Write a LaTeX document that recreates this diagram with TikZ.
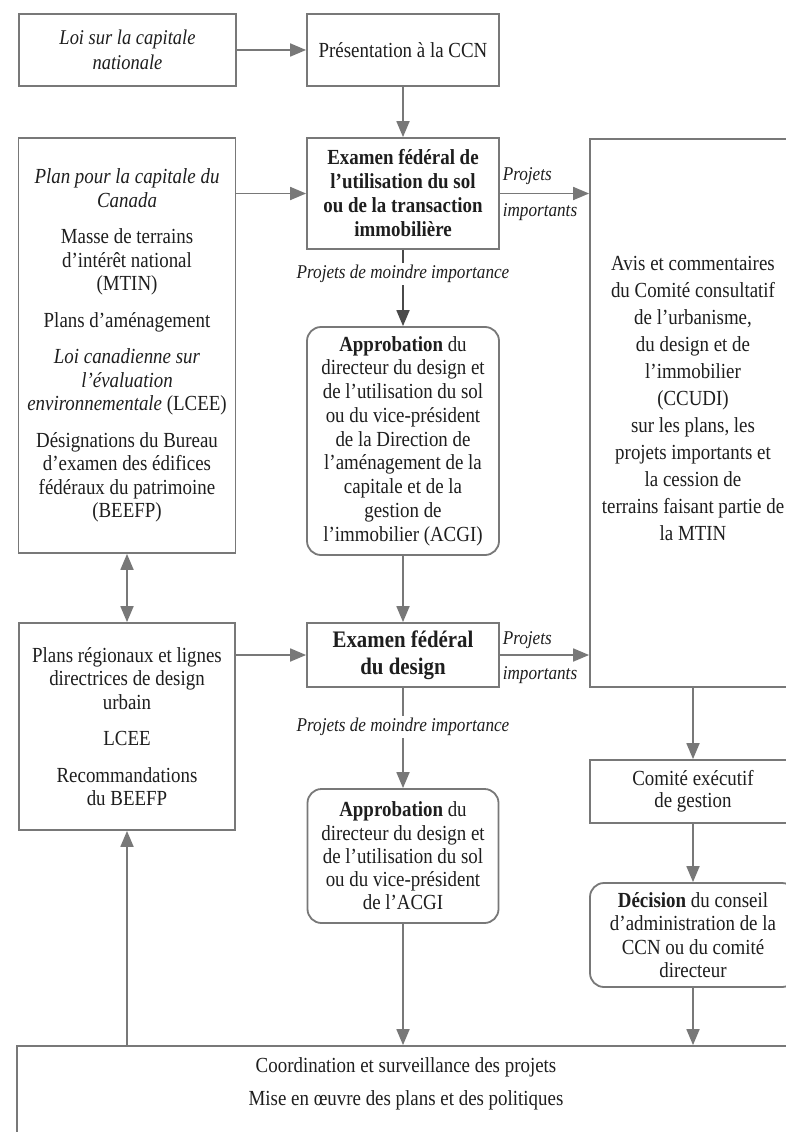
\documentclass[tikz,border=0pt]{standalone}
\usepackage{fontspec}
\setmainfont[FakeStretch=0.88]{Liberation Serif}
\usetikzlibrary{arrows.meta}
\definecolor{linegray}{HTML}{787878}
\definecolor{darkline}{HTML}{4A4A4A}
\definecolor{textgray}{HTML}{1E1E1E}
\tikzset{
  box/.style={draw=linegray, line width=1.8pt, align=center, inner sep=0pt,
    text=textgray, font=\fontsize{21.5}{23.5}\selectfont},
  rbox/.style={box, rounded corners=14pt},
  conn/.style={draw=linegray, line width=1.8pt, -{Triangle[length=16pt,width=13pt]}},
  dconn/.style={conn, {Triangle[length=16pt,width=13pt]}-{Triangle[length=16pt,width=13pt]}},
  lbl/.style={font=\fontsize{19.5}{20}\selectfont\itshape, text=textgray, inner sep=2pt},
  txt/.style={align=center, text=textgray, inner sep=0pt},
}
\begin{document}
\begin{tikzpicture}[x=1pt,y=-1pt]
\useasboundingbox (0,0) rectangle (786,1132);
\clip (0,0) rectangle (786,1132);
\fill[white] (0,0) rectangle (786,1132);

% top row
\node[box, minimum width=217pt, minimum height=72pt, font=\fontsize{21}{25}\selectfont\itshape] (loi) at (127.5,50)
  {Loi sur la capitale\\ nationale};
\node[box, minimum width=192pt, minimum height=72pt] (ccn) at (403,50)
  {Présentation à la CCN};

% left column
\node[box, minimum width=217pt, minimum height=415pt] (plans) at (127,345.5)
  {\textit{Plan pour la capitale du}\\ \textit{Canada}\\[13pt]
   Masse de terrains\\ d’intérêt national\\ (MTIN)\\[13pt]
   Plans d’aménagement\\[13pt]
   \textit{Loi canadienne sur}\\ \textit{l’évaluation}\\ \textit{environnementale} (LCEE)\\[13pt]
   Désignations du Bureau\\ d’examen des édifices\\ fédéraux du patrimoine\\ (BEEFP)};
\node[box, minimum width=216pt, minimum height=207pt] (regio) at (127,726.5)
  {Plans régionaux et lignes\\ directrices de design\\ urbain\\[13pt]
   LCEE\\[13pt]
   Recommandations\\ du BEEFP};

% middle column
\node[box, minimum width=192pt, minimum height=111pt, font=\fontsize{21.5}{24}\selectfont\bfseries] (exam1) at (403,193.5)
  {Examen fédéral de\\ l’utilisation du sol\\ ou de la transaction\\ immobilière};
\node[rbox, minimum width=192pt, minimum height=228pt, font=\fontsize{21.5}{23.75}\selectfont] (appro1) at (403,441)
  {\textbf{Approbation} du\\ directeur du design et\\ de l’utilisation du sol\\ ou du vice-président\\ de la Direction de\\ l’aménagement de la\\ capitale et de la\\ gestion de\\ l’immobilier (ACGI)};
\node[box, minimum width=192pt, minimum height=64pt, font=\fontsize{23.7}{27}\selectfont\bfseries] (exam2) at (403,655)
  {Examen fédéral\\ du design};
\node[rbox, minimum width=191pt, minimum height=134pt, font=\fontsize{21.5}{23.3}\selectfont] (appro2) at (403,856)
  {\textbf{Approbation} du\\ directeur du design et\\ de l’utilisation du sol\\ ou du vice-président\\ de l'ACGI};

% right column
\node[box, minimum width=206pt, minimum height=548pt] (ccudi) at (693,413) {};
\node[txt, font=\fontsize{21.5}{27}\selectfont] (ccuditext) at (693,398)
  {Avis et commentaires\\ du Comité consultatif\\ de l’urbanisme,\\ du design et de\\ l’immobilier\\ (CCUDI)\\ sur les plans, les\\ projets importants et\\ la cession de\\ terrains faisant partie de\\ la MTIN};
\node[box, minimum width=206pt, minimum height=63pt, font=\fontsize{21.5}{22}\selectfont] (comite) at (693,791.5)
  {Comité exécutif\\ de gestion};
\node[rbox, minimum width=206pt, minimum height=104pt, font=\fontsize{21.5}{23.3}\selectfont] (decision) at (693,935)
  {\textbf{Décision} du conseil\\ d’administration de la\\ CCN ou du comité\\ directeur};

% bottom
\node[box, minimum width=783pt, minimum height=88pt] (coord) at (408.5,1090) {};
\node[txt, font=\fontsize{21.5}{33}\selectfont] (coordtext) at (406,1083.5)
  {Coordination et surveillance des projets\\ Mise en œuvre des plans et des politiques};

% connectors
\draw[conn] (loi) -- (ccn);
\draw[conn] (ccn) -- (exam1);
\draw[conn] (plans.east |- exam1.west) -- (exam1.west);
\draw[conn] (exam1.east) -- (exam1.east -| ccudi.west)
  node[lbl, pos=0, anchor=west, yshift=17pt] {Projets}
  node[lbl, pos=0, anchor=west, yshift=-19pt] {importants};
\draw[conn, draw=darkline] (exam1) -- node[lbl, fill=white, pos=0.32] {Projets de moindre importance} (appro1);
\draw[conn] (appro1) -- (exam2);
\draw[dconn] (plans) -- (regio);
\draw[conn] (regio.east |- exam2.west) -- (exam2.west);
\draw[conn] (exam2.east) -- (exam2.east -| ccudi.west)
  node[lbl, pos=0, anchor=west, yshift=15pt] {Projets}
  node[lbl, pos=0, anchor=west, yshift=-20pt] {importants};
\draw[conn] (exam2) -- node[lbl, fill=white, pos=0.39] {Projets de moindre importance} (appro2);
\draw[conn] (ccudi) -- (comite);
\draw[conn] (comite) -- (decision);
\draw[conn] (appro2.south) -- (appro2.south |- coord.north);
\draw[conn] (decision.south) -- (decision.south |- coord.north);
\draw[conn] (coord.north -| regio.south) -- (regio.south);
\end{tikzpicture}
\end{document}
